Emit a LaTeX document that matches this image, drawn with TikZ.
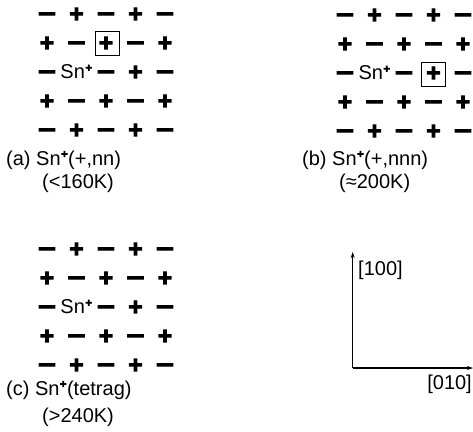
\documentclass[tikz,border=0pt]{standalone}
\usepackage{graphicx}
\usepackage{fontspec}
\setmainfont{Liberation Sans}
\newfontfamily\signfont[FakeBold=7]{DejaVu Sans Bold}
\usetikzlibrary{arrows.meta}
\newcommand{\snion}{Sn\raisebox{0.42em}{\signfont\fontsize{9}{9}\selectfont +}}
\begin{document}
\begin{tikzpicture}[x=1pt,y=-1pt,
  sign/.style={inner sep=0pt, anchor=base, font=\signfont\fontsize{19}{19}\selectfont},
  lab/.style={inner sep=0pt, font=\fontsize{20}{20}\selectfont},
  boxed/.style={draw, line width=0.9pt, minimum size=24pt, inner sep=0pt},
  axis/.style={line width=1.2pt}]
\useasboundingbox (0,0) rectangle (473,431);
\foreach \g/\ox/\oy in {a/47/14,b/345/15,c/47/249}{
  \foreach \r in {1,...,5}{
    \foreach \c in {1,...,5}{
      \pgfmathtruncatemacro\sgn{mod(\r+\c,2)}
      \pgfmathtruncatemacro\isSn{(\r==3)&&(\c==2)}
      \ifnum\isSn=0
        \node[sign] (\g-\r-\c) at ({\ox+(\c-1)*29.5},{\oy+(\r-1)*29+5.9}) {\ifnum\sgn=0 \scalebox{1.25}[1]{−}\else +\fi};
      \fi
    }
  }
  \node[lab] (\g-sn) at ({\ox+29.5},{\oy+58}) {\snion};
}
% boxed ions
\node[boxed] (boxa) at (107,43) {};
\node[boxed] (boxb) at (433,74) {};
% captions
\node[lab, anchor=west] (capa) at (6,160) {(a) \snion(+,nn)};
\node[lab, anchor=west] (tema) at (42,183) {(<160K)};
\node[lab, anchor=west] (capb) at (302,160) {(b) \snion(+,nnn)};
\node[lab, anchor=west] (temb) at (339,183) {(≈200K)};
\node[lab, anchor=west] (capc) at (6,390) {(c) \snion(tetrag)};
\node[lab, anchor=west] (temc) at (42,417) {(>240K)};
% axes
\coordinate (o) at (352.7,368);
\coordinate (ytip) at (352.7,252);
\coordinate (xtip) at (473,368);
\draw[axis,-{Stealth[length=6pt,width=4pt]}] (o) -- (ytip);
\draw[axis,-{Stealth[length=6pt,width=4pt]}] (o) -- (xtip);
\node[lab, anchor=west] (l100) at (358,270) {[100]};
\node[lab, anchor=east] (l010) at (472,384) {[010]};
\end{tikzpicture}
\end{document}
